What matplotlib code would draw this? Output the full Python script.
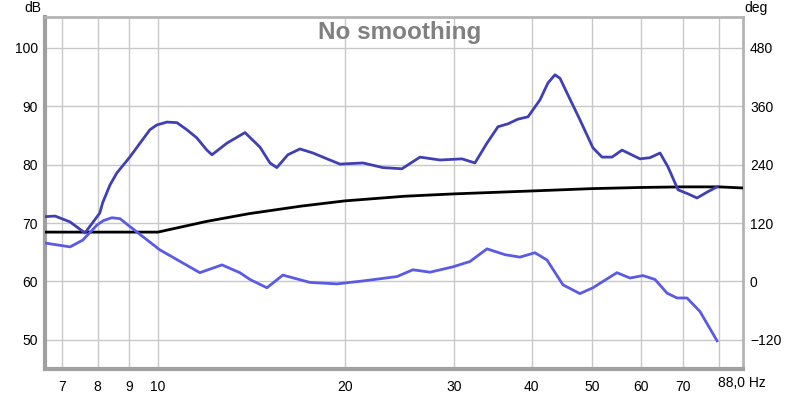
import matplotlib
matplotlib.use("Agg")
import matplotlib.pyplot as plt
import numpy as np

plt.rcParams['font.family'] = ['Liberation Sans', 'DejaVu Sans']

# SPL magnitude (dB)
spl_freq = [6.58, 6.83, 7.22, 7.63, 8.06, 8.15, 8.37, 8.59, 9.01, 9.36, 9.71, 9.96, 10.34,
            10.73, 11.13, 11.55, 11.99, 12.22, 12.92, 13.81, 14.60, 15.15, 15.54, 16.19,
            16.93, 17.77, 18.72, 19.64, 21.39, 23.03, 24.71, 26.42, 28.46, 30.87, 32.39,
            33.87, 35.28, 36.61, 37.99, 39.43, 41.22, 42.46, 43.58, 44.40, 45.56, 47.80,
            50.16, 51.88, 53.84, 55.88, 59.73, 61.98, 64.33, 66.27, 68.77, 71.37, 73.79,
            76.59, 79.47]
spl_db = [71.1, 71.2, 70.2, 68.3, 71.7, 73.5, 76.5, 78.6, 81.3, 83.7, 86.0, 86.8, 87.3,
          87.2, 86.0, 84.6, 82.5, 81.7, 83.7, 85.5, 83.0, 80.3, 79.5, 81.7,
          82.7, 82.0, 81.0, 80.1, 80.3, 79.5, 79.3, 81.3, 80.8, 81.0, 80.3,
          83.7, 86.5, 87.0, 87.8, 88.2, 91.1, 94.0, 95.4, 94.8, 92.3, 87.7,
          82.9, 81.3, 81.3, 82.5, 81.0, 81.2, 82.0, 79.6, 75.7, 75.0, 74.3,
          75.3, 76.2]

# Phase (deg)
ph_freq = [6.58, 7.22, 7.57, 7.98, 8.17, 8.43, 8.69, 9.01, 10.07, 11.68, 12.68, 13.55,
           14.07, 14.98, 15.89, 17.57, 19.42, 21.39, 24.26, 25.74, 27.42, 29.85, 31.80,
           33.87, 36.21, 38.27, 40.46, 42.31, 44.89, 47.80, 50.16, 54.04, 54.85, 57.54,
           60.39, 63.15, 66.02, 68.50, 71.10, 74.62, 79.47]
ph_deg = [79, 71, 85, 116, 125, 131, 129, 113, 65, 18, 34, 18,
          4, -13, 13, -2, -5, 1, 10, 24, 19, 30, 41,
          67, 55, 50, 59, 44, -7, -25, -13, 13, 18, 7,
          12, 4, -24, -34, -34, -62, -122]

# Target curve (dB)
tgt_freq = [6.58, 10.0, 12.0, 14.0, 17.0, 20.0, 25.0, 30.0, 40.0, 50.0, 60.0, 70.0, 80.0, 88.0]
tgt_db = [68.45, 68.45, 70.3, 71.6, 72.9, 73.8, 74.6, 75.0, 75.5, 75.9, 76.1, 76.2, 76.2, 76.0]

x_ticks = [7, 8, 9, 10, 20, 30, 40, 50, 60, 70, 80]
x_labels = ['7', '8', '9', '10', '20', '30', '40', '50', '60', '70', '']
y_ticks = [50, 60, 70, 80, 90, 100]
deg_ticks = [-120, 0, 120, 240, 360, 480]

fig = plt.figure(figsize=(8, 3.94), dpi=100)
ax = fig.add_axes([45/800, 1-369/394, (743-45)/800, (369-17)/394])
ax.set_xscale('log')
ax.set_xlim(6.58, 87.5)
ylo, yhi = 45.0, 105.3
ax.set_ylim(ylo, yhi)

ax.set_xticks(x_ticks)
ax.set_xticklabels(x_labels)
ax.xaxis.set_minor_locator(matplotlib.ticker.NullLocator())
ax.set_yticks(y_ticks)
ax.tick_params(axis='both', length=0, labelsize=10, colors='#000000')
ax.tick_params(axis='x', pad=8)
ax.tick_params(axis='y', pad=5)
ax.grid(True, color='#c8c8c8', lw=1.0)
ax.set_axisbelow(True)

for s in ax.spines.values():
    s.set_color('#b4b4b4')
    s.set_linewidth(2)
ax.spines['left'].set_color('#a0a0a0')
ax.spines['bottom'].set_color('#a0a0a0')
ax.spines['left'].set_linewidth(3)
ax.spines['bottom'].set_linewidth(3)

ax.plot(tgt_freq, tgt_db, color='#000000', lw=2, zorder=3)
ax.plot(spl_freq, spl_db, color='#4040b4', lw=2, zorder=4, solid_joinstyle='round')

ax2 = ax.twinx()
ax2.set_ylim(12*ylo-720, 12*yhi-720)
ax2.set_yticks(deg_ticks)
ax2.tick_params(axis='y', length=0, labelsize=10, pad=5)
for s in ax2.spines.values():
    s.set_visible(False)
ax2.plot(ph_freq, ph_deg, color='#5a5ae6', lw=2, zorder=4, solid_joinstyle='round')

fig.text(33/800, 1-8/394, 'dB', fontsize=10, ha='center', va='center')
fig.text(756/800, 1-8/394, 'deg', fontsize=10, ha='center', va='center')
fig.text(718/800, 1-383/394, '88,0 Hz', fontsize=10, ha='left', va='center')
fig.text(400/800, 1-32/394, 'No smoothing', fontsize=17.5, fontweight='bold',
         color='#808080', ha='center', va='center')

fig.savefig('out.png', dpi=100)
